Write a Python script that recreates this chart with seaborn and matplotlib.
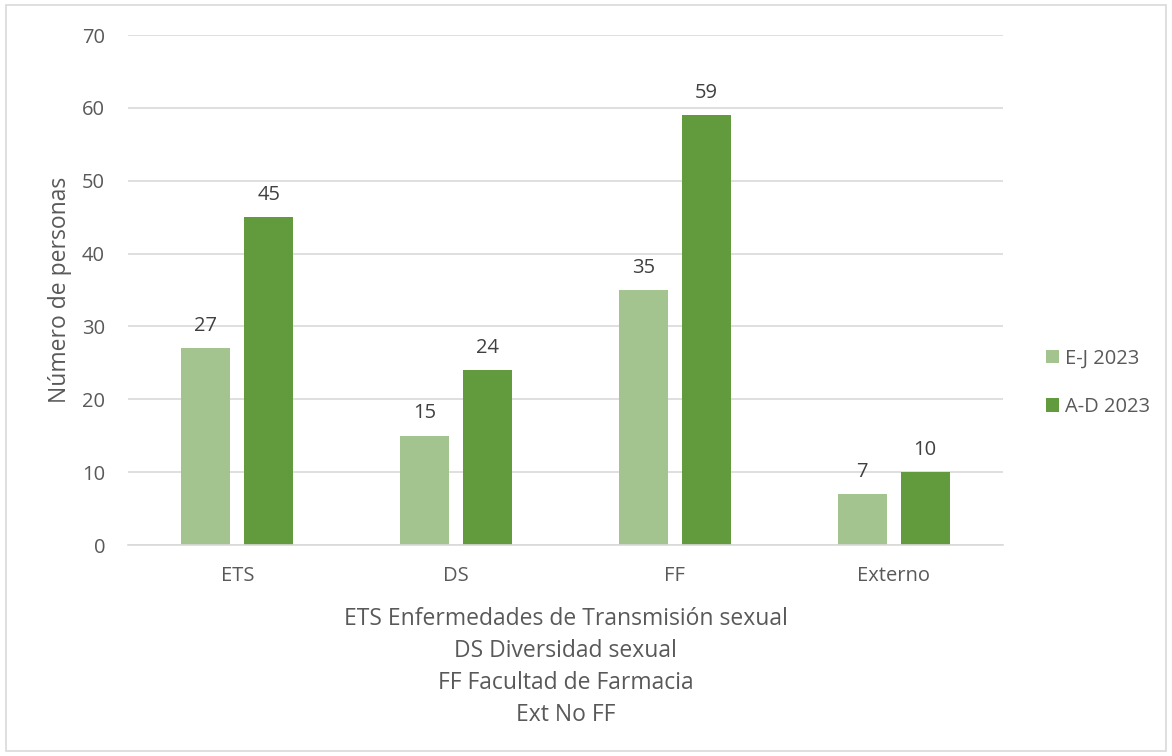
import numpy as np
import pandas as pd
import seaborn as sns
import matplotlib.pyplot as plt
from matplotlib.patches import Rectangle

categories = ['ETS', 'DS', 'FF', 'Externo']
series = ['E-J 2023', 'A-D 2023']
ej_2023 = [27, 15, 35, 7]
ad_2023 = [45, 24, 59, 10]
yticks = [0, 10, 20, 30, 40, 50, 60, 70]
xlabel_lines = ['ETS Enfermedades de Transmisión sexual', 'DS Diversidad sexual',
                'FF Facultad de Farmacia', 'Ext No FF']

df = pd.DataFrame({
    'cat': categories * 2,
    'serie': [series[0]] * 4 + [series[1]] * 4,
    'val': ej_2023 + ad_2023,
})

sns.set_style("white")
plt.rcParams['font.family'] = ['Open Sans', 'DejaVu Sans']
txt = '#595959'

fig = plt.figure(figsize=(11.72, 7.56), dpi=100)
ax = fig.add_axes([0.1092, 0.279, 0.7466, 0.6747])
colors = ['#A3C48F', '#629B3D']
sns.barplot(data=df, x='cat', y='val', hue='serie', palette=colors, ax=ax,
            width=0.575, gap=0.22, saturation=1, linewidth=0)

for cont in ax.containers:
    ax.bar_label(cont, padding=9, fontsize=14.5, color='#404040')

ax.set_ylim(0, 70)
ax.set_yticks(yticks)
ax.set_xlim(-0.5, 3.5)
ax.yaxis.grid(True, color='#D9D9D9', linewidth=1.2)
ax.set_axisbelow(True)
for s in ['top', 'right', 'left']:
    ax.spines[s].set_visible(False)
ax.spines['bottom'].set_color('#D9D9D9')
ax.spines['bottom'].set_linewidth(1.2)
ax.tick_params(axis='both', length=0, labelsize=14.5, labelcolor=txt)
ax.tick_params(axis='x', pad=15)
ax.tick_params(axis='y', pad=16.5)
ax.set_ylabel('Número de personas', fontsize=16.5, color=txt, labelpad=7)
ax.set_xlabel('\n'.join(xlabel_lines), fontsize=16.5, color=txt, labelpad=15,
              linespacing=1.45)

ax.legend(loc='center left', bbox_to_anchor=(1.028, 0.318), frameon=False,
          fontsize=14.5, labelcolor=txt, handlelength=0.65, handleheight=0.65,
          handletextpad=0.3, labelspacing=1.4)

fig.patches.append(Rectangle((0.005, 0.006), 0.99, 0.988, transform=fig.transFigure,
                             fill=False, edgecolor='#D9D9D9', linewidth=1.2))

fig.savefig('out.png', dpi=100)
